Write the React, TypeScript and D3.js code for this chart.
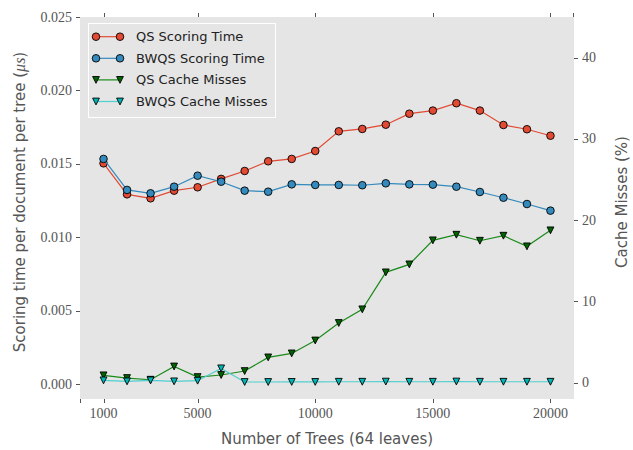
import * as React from 'react';
import { useRef, useEffect } from 'react';
import * as d3 from 'd3';

const trees = [1000, 2000, 3000, 4000, 5000, 6000, 7000, 8000, 9000, 10000,
  11000, 12000, 13000, 14000, 15000, 16000, 17000, 18000, 19000, 20000];

const qsTime = [0.01504, 0.01293, 0.01266, 0.01318, 0.01341, 0.01398, 0.01452, 0.01518, 0.01534, 0.01588,
  0.01722, 0.01738, 0.01767, 0.01842, 0.01863, 0.01913, 0.01863, 0.01765, 0.01736, 0.01692];
const bwqsTime = [0.01534, 0.01323, 0.01300, 0.01345, 0.01420, 0.01379, 0.01318, 0.01311, 0.01361, 0.01357,
  0.01357, 0.01355, 0.01368, 0.01361, 0.01359, 0.01345, 0.01309, 0.01270, 0.01227, 0.01182];
const qsMiss = [0.91, 0.58, 0.37, 2.0, 0.70, 0.95, 1.44, 3.12, 3.61, 5.2,
  7.35, 9.03, 13.58, 14.56, 17.52, 18.21, 17.47, 18.09, 16.78, 18.75];
const bwqsMiss = [0.29, 0.17, 0.29, 0.17, 0.25, 1.77, 0.09, 0.09, 0.1, 0.1,
  0.12, 0.12, 0.14, 0.12, 0.12, 0.15, 0.12, 0.12, 0.12, 0.12];

const xTicks = [1000, 5000, 10000, 15000, 20000];
const leftTicks = [0, 0.005, 0.01, 0.015, 0.02, 0.025];
const rightTicks = [0, 10, 20, 30, 40];

const legendLabels = ['QS Scoring Time', 'BWQS Scoring Time', 'QS Cache Misses', 'BWQS Cache Misses'];

const W = 633;
const H = 450;
const TEXT = '#555555';
const SANS = '"DejaVu Sans", sans-serif';
const SERIF = '"Liberation Serif", serif';

const App = () => {
  const svgRef = useRef<SVGSVGElement>(null);

  useEffect(() => {
    const svg = d3.select(svgRef.current);
    svg.selectAll('*').remove();

    const x = d3.scaleLinear().domain([0, 21000]).range([80, 574]);
    const yL = d3.scaleLinear().domain([-0.001, 0.025]).range([399, 17]);
    const yR = d3.scaleLinear().domain([-2, 45]).range([399, 17]);

    const [x0, x1] = x.range();
    const [yb, yt] = yL.range();

    // background
    svg.append('rect')
      .attr('x', x0).attr('y', yt)
      .attr('width', x1 - x0).attr('height', yb - yt)
      .attr('fill', '#E5E5E5');

    const tickG = svg.append('g').attr('stroke', TEXT).attr('stroke-width', 1);

    // x ticks (bottom + top)
    xTicks.forEach(t => {
      const px = Math.round(x(t)) + 0.5;
      tickG.append('line').attr('x1', px).attr('x2', px).attr('y1', yb).attr('y2', yb + 4);
      tickG.append('line').attr('x1', px).attr('x2', px).attr('y1', yt - 4).attr('y2', yt);
      svg.append('text')
        .attr('x', x(t)).attr('y', yb + 19)
        .attr('text-anchor', 'middle')
        .attr('font-family', SERIF).attr('font-size', 14)
        .attr('fill', TEXT)
        .text(t);
    });
    tickG.append('line').attr('x1', x0 + 0.5).attr('x2', x0 + 0.5).attr('y1', yb).attr('y2', yb + 4);
    tickG.append('line').attr('x1', x1 - 0.5).attr('x2', x1 - 0.5).attr('y1', yt - 4).attr('y2', yt);

    // left ticks
    const fmt = d3.format('.3f');
    leftTicks.forEach(t => {
      const py = Math.round(yL(t)) + 0.5;
      tickG.append('line').attr('x1', x0 - 4).attr('x2', x0).attr('y1', py).attr('y2', py);
      svg.append('text')
        .attr('x', x0 - 8).attr('y', yL(t) + 4.5)
        .attr('text-anchor', 'end')
        .attr('font-family', SERIF).attr('font-size', 14)
        .attr('fill', TEXT)
        .text(fmt(t));
    });

    // right ticks
    rightTicks.forEach(t => {
      const py = Math.round(yR(t)) + 0.5;
      tickG.append('line').attr('x1', x1).attr('x2', x1 + 4).attr('y1', py).attr('y2', py);
      svg.append('text')
        .attr('x', x1 + 8).attr('y', yR(t) + 4.5)
        .attr('text-anchor', 'start')
        .attr('font-family', SERIF).attr('font-size', 14)
        .attr('fill', TEXT)
        .text(t);
    });

    // axis labels
    svg.append('text')
      .attr('x', (x0 + x1) / 2).attr('y', 444)
      .attr('text-anchor', 'middle')
      .attr('font-family', SANS).attr('font-size', 15)
      .attr('fill', TEXT)
      .text('Number of Trees (64 leaves)');

    const ll = svg.append('text')
      .attr('transform', `translate(25,${(yb + yt) / 2 - 6}) rotate(-90)`)
      .attr('text-anchor', 'middle')
      .attr('font-family', SANS).attr('font-size', 15)
      .attr('fill', TEXT);
    ll.append('tspan').text('Scoring time per document per tree (');
    ll.append('tspan').attr('font-family', SERIF).attr('font-style', 'italic').attr('font-size', 16).text('μs');
    ll.append('tspan').text(')');

    svg.append('text')
      .attr('transform', `translate(627,${(yb + yt) / 2 - 6}) rotate(-90)`)
      .attr('text-anchor', 'middle')
      .attr('font-family', SANS).attr('font-size', 15)
      .attr('fill', TEXT)
      .text('Cache Misses (%)');

    const series = [
      { vals: qsTime, y: yL, color: '#E24A33', line: '#E24A33', fill: '#E24A33', marker: 'o' },
      { vals: bwqsTime, y: yL, color: '#348ABD', line: '#348ABD', fill: '#348ABD', marker: 'o' },
      { vals: qsMiss, y: yR, color: '#008000', line: '#1a8a1a', fill: '#006400', marker: 'v' },
      { vals: bwqsMiss, y: yR, color: '#00BFBF', line: '#4fcfcf', fill: '#00B5B5', marker: 'v' },
    ];

    const tri = (cx: number, cy: number, s: number) =>
      `M${cx - s},${cy - s}L${cx + s},${cy - s}L${cx},${cy + s}Z`;

    const drawMarker = (g: any, cx: number, cy: number, m: string, fill: string) => {
      if (m === 'o') {
        g.append('circle').attr('cx', cx).attr('cy', cy).attr('r', 3.8)
          .attr('fill', fill).attr('stroke', '#000').attr('stroke-width', 0.9);
      } else {
        g.append('path').attr('d', tri(cx, cy, 3.4))
          .attr('fill', fill).attr('stroke', '#000').attr('stroke-width', 0.9);
      }
    };

    series.forEach(s => {
      const g = svg.append('g');
      const line = d3.line<number>()
        .x((_, i) => x(trees[i]))
        .y(d => s.y(d));
      g.append('path')
        .attr('d', line(s.vals))
        .attr('fill', 'none')
        .attr('stroke', s.line)
        .attr('stroke-width', 1.2);
      s.vals.forEach((v, i) => drawMarker(g, x(trees[i]), s.y(v), s.marker, s.fill));
    });

    // legend
    const lg = svg.append('g');
    lg.append('rect')
      .attr('x', 88.5).attr('y', 23.5)
      .attr('width', 187).attr('height', 94)
      .attr('fill', '#E5E5E5')
      .attr('stroke', '#ffffff').attr('stroke-width', 1);
    series.forEach((s, i) => {
      const cy = 36.7 + i * 21.6;
      lg.append('line')
        .attr('x1', 96).attr('x2', 120).attr('y1', cy).attr('y2', cy)
        .attr('stroke', s.line).attr('stroke-width', 1.2);
      drawMarker(lg, 96, cy, s.marker, s.fill);
      drawMarker(lg, 120, cy, s.marker, s.fill);
      lg.append('text')
        .attr('x', 136).attr('y', cy + 4.5)
        .attr('font-family', SANS).attr('font-size', 13)
        .attr('fill', '#222')
        .text(legendLabels[i]);
    });
  }, []);

  return (
    <svg ref={svgRef} width={W} height={H}
      style={{ position: 'absolute', left: 0, top: 0, background: '#fff' }} />
  );
};

export default App;
